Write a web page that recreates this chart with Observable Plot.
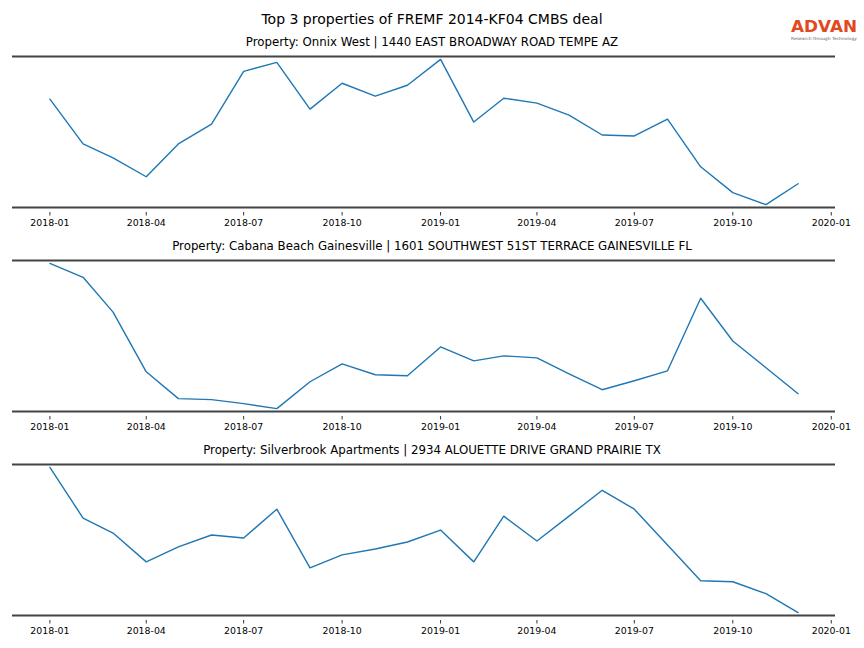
<!DOCTYPE html>
<html>
<head>
<meta charset="utf-8">
<script src="https://cdn.jsdelivr.net/npm/d3@7"></script>
<script src="https://cdn.jsdelivr.net/npm/@observablehq/plot@0.6"></script>
<style>
  body { margin: 0; background: #fff; font-family: "DejaVu Sans", sans-serif; color: #000; }
  #wrap { position: relative; width: 864px; height: 648px; overflow: hidden; }
  #header { position: relative; height: 33px; }
  #title { position: absolute; left: 0; top: 11px; width: 864px; text-align: center; font-size: 14px; line-height: 16px; }
  #logo { position: absolute; left: 786px; top: 14px; }
  .panel { height: 204px; }
  .sub { height: 18px; line-height: 18px; font-size: 11.8px; text-align: center; }
  svg { display: block; }
</style>
</head>
<body>
<div id="wrap">
  <div id="header">
    <div id="title">Top 3 properties of FREMF 2014-KF04 CMBS deal</div>
    <svg id="logo" width="76" height="30">
      <text x="5" y="18" font-family="DejaVu Sans, sans-serif" font-weight="bold" font-size="15" fill="#e04a1e" textLength="66" lengthAdjust="spacingAndGlyphs">ADVAN</text>
      <text x="5" y="26" font-family="DejaVu Sans, sans-serif" font-size="4.2" fill="#666" textLength="66" lengthAdjust="spacingAndGlyphs">Research through Technology</text>
    </svg>
  </div>
  <div id="charts"></div>
</div>
<script>
// Months of observation
const months = ["2018-01","2018-02","2018-03","2018-04","2018-05","2018-06","2018-07","2018-08","2018-09","2018-10","2018-11","2018-12",
                "2019-01","2019-02","2019-03","2019-04","2019-05","2019-06","2019-07","2019-08","2019-09","2019-10","2019-11","2019-12"];

// Property titles
const titles = [
  "Property: Onnix West | 1440 EAST BROADWAY ROAD TEMPE AZ",
  "Property: Cabana Beach Gainesville | 1601 SOUTHWEST 51ST TERRACE GAINESVILLE FL",
  "Property: Silverbrook Apartments | 2934 ALOUETTE DRIVE GRAND PRAIRIE TX"
];

// Series values (relative activity)
const onnixWest = [109, 64, 50, 31, 64, 84, 137, 146, 99, 125, 112, 123, 149, 86, 110, 105, 93, 73, 72, 89, 41, 15, 3, 24];
const cabanaBeach = [147, 133, 98, 38, 11, 10, 6, 1, 28, 46, 35, 34, 63, 49, 54, 52, 36, 20, 29, 39, 112, 69, 42, 16];
const silverbrook = [148, 97, 82, 53, 68, 80, 77, 106, 47, 60, 66, 73, 85, 53, 99, 74, 99, 125, 106, 70, 34, 33, 21, 2];

// Tick labels
const tickLabels = ["2018-01","2018-04","2018-07","2018-10","2019-01","2019-04","2019-07","2019-10","2020-01"];

const series = [onnixWest, cabanaBeach, silverbrook];

const parse = d3.utcParse("%Y-%m");
const fmt = d3.utcFormat("%Y-%m");
const dates = months.map(parse);
const tickDates = tickLabels.map(parse);
const x0 = dates[0], x1 = dates[dates.length - 1];
const span = x1 - x0;
const xDomain = [new Date(+x0 - 0.05 * span), new Date(+x1 + 0.05 * span)];

const charts = document.getElementById("charts");

series.forEach((vals, i) => {
  const data = vals.map((v, j) => ({date: dates[j], value: v}));
  const [mn, mx] = d3.extent(vals);
  const pad = (mx - mn) * 0.02;
  const lo = mn - pad, hi = mx + pad;

  const panel = document.createElement("div");
  panel.className = "panel";
  const sub = document.createElement("div");
  sub.className = "sub";
  sub.textContent = titles[i];
  panel.appendChild(sub);

  const chart = Plot.plot({
    width: 864,
    height: 186,
    marginTop: 5,
    marginBottom: 30,
    marginLeft: 12,
    marginRight: 29,
    style: {fontFamily: "DejaVu Sans, sans-serif", fontSize: "9.4px", color: "#000", background: "#fff", overflow: "visible"},
    x: {type: "utc", domain: xDomain},
    y: {domain: [lo, hi], axis: null},
    marks: [
      Plot.ruleY([lo, hi], {stroke: "#444", strokeWidth: 2}),
      Plot.axisX({ticks: tickDates, tickFormat: fmt, tickSize: 3.5, tickPadding: 3, dy: 5, stroke: "#000", strokeWidth: 0.8, fill: "#000", fontSize: 9.4}),
      Plot.lineY(data, {x: "date", y: "value", stroke: "#1f77b4", strokeWidth: 1.4})
    ]
  });
  panel.appendChild(chart);
  charts.appendChild(panel);
});
</script>
</body>
</html>
